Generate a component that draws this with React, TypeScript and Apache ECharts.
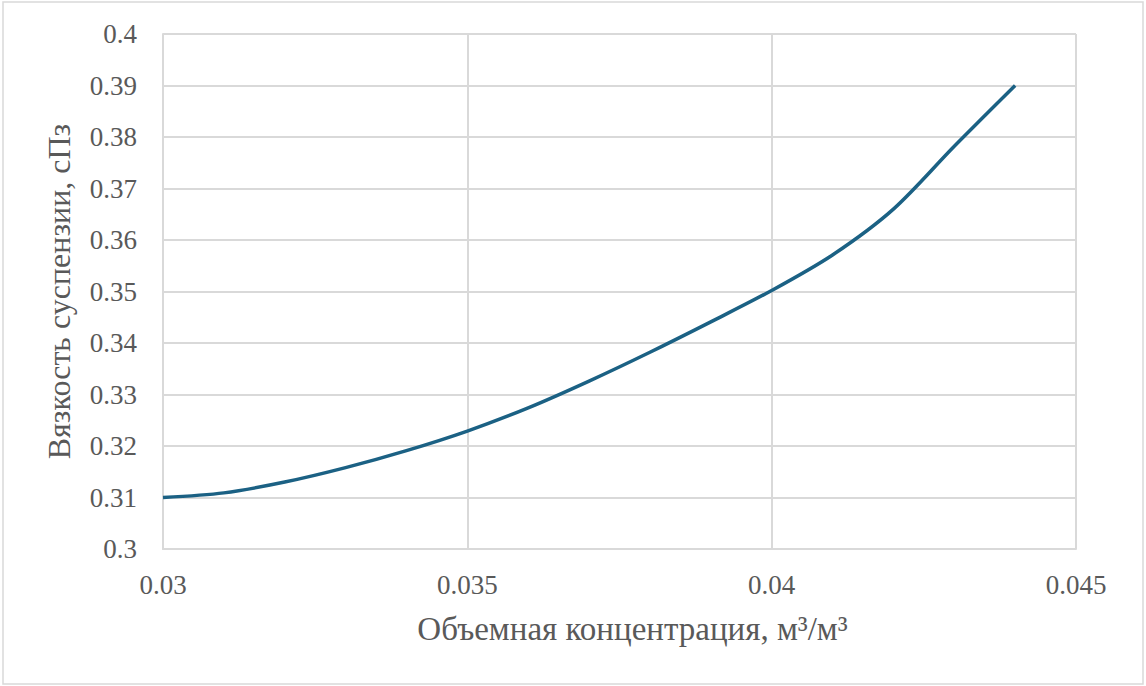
import React, { useEffect, useRef } from "react";
import * as echarts from "echarts";

const concentration = [0.03, 0.031, 0.032, 0.033, 0.034, 0.035, 0.036, 0.037, 0.038, 0.039, 0.04, 0.041, 0.042, 0.043, 0.044];
const viscosity = [0.31, 0.3109, 0.313, 0.3158, 0.3191, 0.3229, 0.3274, 0.3326, 0.3382, 0.3441, 0.3502, 0.3571, 0.366, 0.3782, 0.39];

const xTitle = "Объемная концентрация, м³/м³";
const yTitle = "Вязкость суспензии, сПз";

export default function App() {
  const ref = useRef<HTMLDivElement>(null);
  useEffect(() => {
    const chart = echarts.init(ref.current!, null, { renderer: "svg" });
    const font = "Liberation Serif";
    const fmt = (v: number) => String(+v.toFixed(4));
    chart.setOption({
      animation: false,
      backgroundColor: "#ffffff",
      graphic: [
        {
          type: "rect",
          shape: { x: 3, y: 2, width: 1140, height: 682 },
          style: { fill: "none", stroke: "#d9d9d9", lineWidth: 1.5 },
          silent: true,
        },
      ],
      grid: { left: 163, right: 70, top: 34, bottom: 137 },
      xAxis: {
        type: "value",
        min: 0.03,
        max: 0.045,
        interval: 0.005,
        name: xTitle,
        nameLocation: "middle",
        nameGap: 63,
        nameTextStyle: { fontFamily: font, fontSize: 33, color: "#595959", padding: [0, 0, 0, 26] },
        axisLine: { show: true, lineStyle: { color: "#d9d9d9", width: 2 } },
        axisTick: { show: false },
        axisLabel: { fontFamily: font, fontSize: 27, color: "#595959", margin: 22, formatter: fmt },
        splitLine: { show: true, lineStyle: { color: "#d9d9d9", width: 2 } },
      },
      yAxis: {
        type: "value",
        min: 0.3,
        max: 0.4,
        interval: 0.01,
        name: yTitle,
        nameLocation: "middle",
        nameGap: 88,
        nameTextStyle: { fontFamily: font, fontSize: 32, color: "#595959" },
        axisLine: { show: true, lineStyle: { color: "#d9d9d9", width: 2 } },
        axisTick: { show: false },
        axisLabel: { fontFamily: font, fontSize: 27, color: "#595959", margin: 26, formatter: fmt },
        splitLine: { show: true, lineStyle: { color: "#d9d9d9", width: 2 } },
      },
      series: [
        {
          type: "line",
          data: concentration.map((x, i) => [x, viscosity[i]]),
          smooth: 0.3,
          showSymbol: false,
          symbol: "none",
          lineStyle: { color: "#1b6184", width: 3.5 },
        },
      ],
    });
    return () => chart.dispose();
  }, []);
  return <div ref={ref} style={{ position: "fixed", left: 0, top: 0, width: 1146, height: 686 }} />;
}
